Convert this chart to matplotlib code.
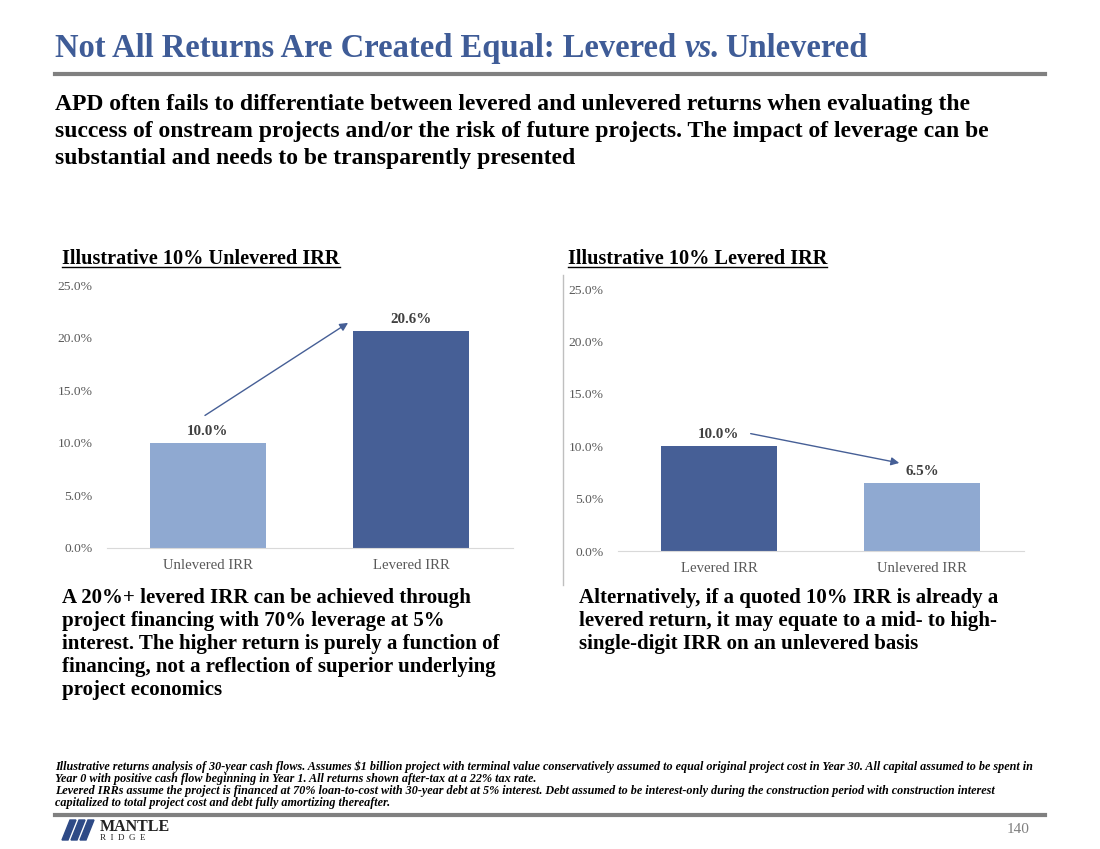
import matplotlib.pyplot as plt
from matplotlib.patches import Polygon
from matplotlib.lines import Line2D
from matplotlib.ticker import PercentFormatter

# data
left_cats = ['Unlevered IRR', 'Levered IRR']
left_vals = [10.0, 20.6]
right_cats = ['Levered IRR', 'Unlevered IRR']
right_vals = [10.0, 6.5]
yticks = [0, 5, 10, 15, 20, 25]

LIGHT = '#8FA9D1'
DARK = '#465F96'
BLUE_TXT = '#3F5C97'
GRAY = '#595959'
SERIF = ['Liberation Serif', 'DejaVu Serif']

W, H = 1100, 849
fig = plt.figure(figsize=(11, 8.49), dpi=100)
plt.rcParams['font.family'] = SERIF


def fx(x):
    return x / W


def fy(y):
    return 1 - y / H


def ptext(x, y, s, **kw):
    kw.setdefault('va', 'baseline')
    kw.setdefault('family', SERIF)
    return fig.text(fx(x), fy(y), s, **kw)


def hline(x0, x1, y, color, lw):
    fig.add_artist(Line2D([fx(x0), fx(x1)], [fy(y), fy(y)], color=color, lw=lw,
                          transform=fig.transFigure))


# title (with italic "vs.")
TS = 23.5
t = ptext(55, 57, 'Not All Returns Are Created Equal: Levered ', color=BLUE_TXT,
          fontsize=TS, fontweight='bold')
fig.canvas.draw()
x_vs = t.get_window_extent().x1
vs = ptext(x_vs, 57, 'vs.', color=BLUE_TXT, fontsize=TS,
           fontweight='bold', fontstyle='italic')
fig.canvas.draw()
x_un = vs.get_window_extent().x1
ptext(x_un + 6, 57, 'Unlevered', color=BLUE_TXT, fontsize=TS, fontweight='bold')
hline(55, 1045, 74, '#808080', 3)

# subtitle
sub = ['APD often fails to differentiate between levered and unlevered returns when evaluating the',
       'success of onstream projects and/or the risk of future projects. The impact of leverage can be',
       'substantial and needs to be transparently presented']
for i, line in enumerate(sub):
    ptext(55, 110 + i * 27, line, fontsize=17, fontweight='bold', color='black')

# chart headers
for x, s in [(62, 'Illustrative 10% Unlevered IRR'), (568, 'Illustrative 10% Levered IRR')]:
    h = ptext(x, 264, s, fontsize=14.6, fontweight='bold', color='black')
    fig.canvas.draw()
    e = h.get_window_extent()
    hline(x, e.x1, 267, 'black', 1)


def bar_chart(rect, cats, vals, colors, arrow):
    ax = fig.add_axes(rect)
    xs = range(len(cats))
    ax.bar(xs, vals, width=0.57, color=colors)
    ax.set_xlim(-0.5, 1.5)
    ax.set_ylim(0, 25)
    ax.set_yticks(yticks)
    ax.yaxis.set_major_formatter(PercentFormatter(decimals=1))
    ax.set_xticks(list(xs))
    ax.set_xticklabels(cats)
    ax.tick_params(length=0, labelcolor=GRAY)
    ax.tick_params(axis='y', pad=10, labelsize=9.7)
    ax.tick_params(axis='x', pad=8, labelsize=10.6)
    for sp in ['top', 'right', 'left']:
        ax.spines[sp].set_visible(False)
    ax.spines['bottom'].set_color('#D9D9D9')
    for x, v in zip(xs, vals):
        ax.text(x, v + 0.5, f'{v:.1f}%', ha='center', va='bottom', fontsize=10.8,
                fontweight='bold', color='#404040')
    ax.annotate('', xy=arrow[1], xytext=arrow[0],
                arrowprops=dict(arrowstyle='-|>', color=DARK, lw=1,
                                mutation_scale=12, shrinkA=0, shrinkB=0))
    return ax


bar_chart([fx(106.5), 1 - 548 / H, 406 / W, 263 / H], left_cats, left_vals,
          [LIGHT, DARK], [(-0.015, 12.6), (0.69, 21.4)])
bar_chart([fx(617.5), 1 - 551 / H, 406 / W, 262 / H], right_cats, right_vals,
          [DARK, LIGHT], [(0.156, 11.2), (0.888, 8.4)])

# separator
fig.add_artist(Line2D([fx(563), fx(563)], [fy(275), fy(585)], color='#BFBFBF', lw=1,
                      transform=fig.transFigure))

# commentary
left_txt = ['A 20%+ levered IRR can be achieved through',
            'project financing with 70% leverage at 5%',
            'interest. The higher return is purely a function of',
            'financing, not a reflection of superior underlying',
            'project economics']
right_txt = ['Alternatively, if a quoted 10% IRR is already a',
             'levered return, it may equate to a mid- to high-',
             'single-digit IRR on an unlevered basis']
for i, line in enumerate(left_txt):
    ptext(62, 603 + i * 23, line, fontsize=15, fontweight='bold')
for i, line in enumerate(right_txt):
    ptext(579, 603 + i * 23, line, fontsize=15, fontweight='bold')

# footnotes
notes = ['Illustrative returns analysis of 30-year cash flows. Assumes $1 billion project with terminal value conservatively assumed to equal original project cost in Year 30. All capital assumed to be spent in',
         'Year 0 with positive cash flow beginning in Year 1. All returns shown after-tax at a 22% tax rate.',
         'Levered IRRs assume the project is financed at 70% loan-to-cost with 30-year debt at 5% interest. Debt assumed to be interest-only during the construction period with construction interest',
         'capitalized to total project cost and debt fully amortizing thereafter.']
for i, line in enumerate(notes):
    ptext(55, 770 + i * 12, line, fontsize=8.7, fontweight='bold', fontstyle='italic')
hline(55, 1045, 815, '#808080', 3)

# logo
for k in range(3):
    x0 = 62 + k * 9
    pts = [(x0, 840), (x0 + 6, 840), (x0 + 14, 820), (x0 + 8, 820)]
    fig.add_artist(Polygon([(fx(a), fy(b)) for a, b in pts], closed=True,
                           color='#2E4A86', transform=fig.transFigure))
ptext(100, 831, 'MANTLE', fontsize=11.5, fontweight='bold', color='#222222')
ptext(100, 840, 'R  I  D  G  E', fontsize=6.5, color='#222222')
ptext(1030, 833, '140', fontsize=11, color='#808080', ha='right')

fig.savefig('out.png', dpi=100)
